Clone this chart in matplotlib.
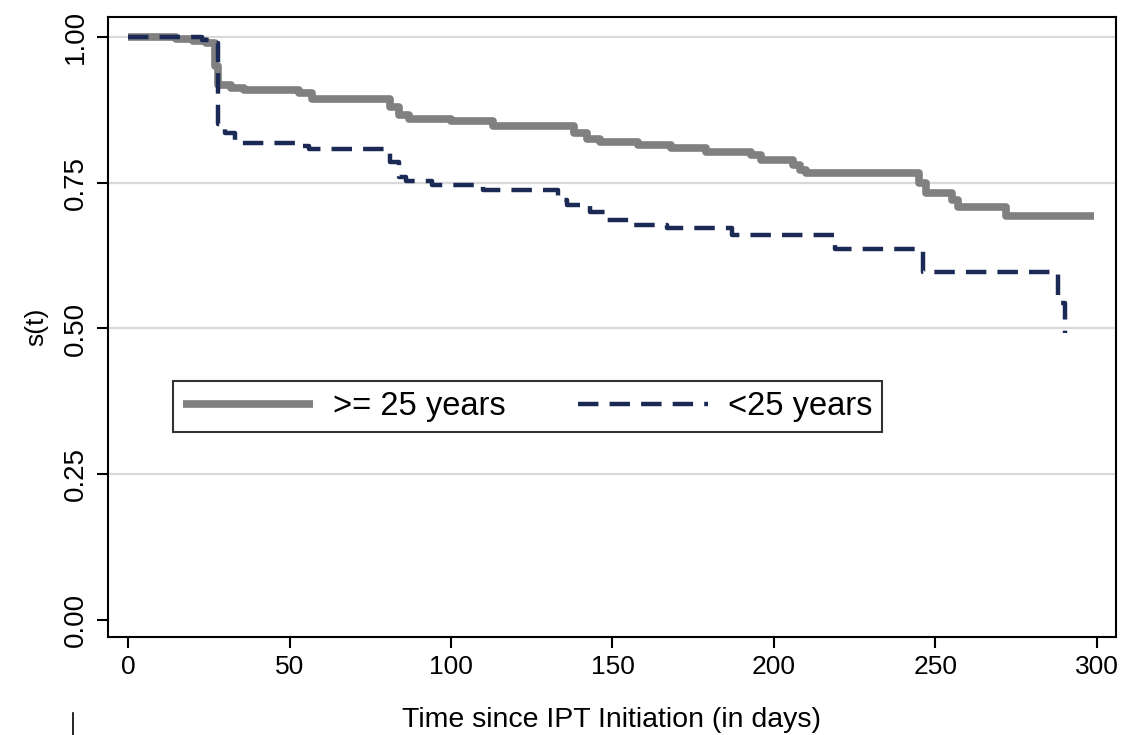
import matplotlib
matplotlib.use("Agg")
import matplotlib.pyplot as plt
from matplotlib.lines import Line2D

# ---- data ----
t_old = [0, 15, 20, 24, 27, 28, 32, 36, 53, 57, 81, 84, 87, 100, 113, 138, 142, 146,
         158, 168, 179, 193, 196, 206, 208, 210, 245, 247, 255, 257, 272, 299]
s_old = [1.0, 0.997, 0.993, 0.99, 0.95, 0.918, 0.912, 0.908, 0.903, 0.893, 0.88, 0.866,
         0.859, 0.855, 0.847, 0.835, 0.825, 0.82, 0.815, 0.81, 0.803, 0.797, 0.789, 0.78,
         0.772, 0.767, 0.75, 0.732, 0.72, 0.708, 0.693, 0.693]

t_young = [0, 23, 27, 28, 30, 33, 53, 56, 81, 84, 86, 94, 110, 133, 136, 143, 148, 155,
           167, 187, 219, 246, 288, 290]
s_young = [1.0, 0.995, 0.99, 0.85, 0.835, 0.818, 0.812, 0.808, 0.785, 0.76, 0.752, 0.746,
           0.738, 0.72, 0.712, 0.70, 0.686, 0.678, 0.672, 0.66, 0.636, 0.597, 0.544, 0.492]

labels = [">= 25 years", "<25 years"]
xticks = [0, 50, 100, 150, 200, 250, 300]
yticks = [0.00, 0.25, 0.50, 0.75, 1.00]
ytick_labels = ["0.00", "0.25", "0.50", "0.75", "1.00"]
xlabel = "Time since IPT Initiation (in days)"
ylabel = "s(t)"

plt.rcParams['font.family'] = ['Liberation Sans', 'DejaVu Sans']

fig = plt.figure(figsize=(11.37, 7.35), dpi=100)
ax = fig.add_axes([0.095, 0.1333, 0.8865, 0.8436])

for yv in yticks[1:]:
    ax.axhline(yv, color='#d9d9d9', lw=1.6, zorder=0)

ax.plot(t_old, s_old, drawstyle='steps-post', color='#808080', lw=5.5,
        solid_capstyle='butt', label=labels[0], zorder=2)
ax.plot(t_young, s_young, drawstyle='steps-post', color='#1b2a55', lw=3.2,
        dashes=(4.6, 2.5), label=labels[1], zorder=3)

ax.set_xlim(-6.2, 305.9)
ax.set_ylim(-0.029, 1.034)
ax.set_xticks(xticks)
ax.set_xticklabels([str(v) for v in xticks], fontsize=19)
ax.set_yticks(yticks)
ax.set_yticklabels(ytick_labels, fontsize=20, rotation=90, va='center')
ax.tick_params(axis='both', direction='out', length=8, width=1.5, color='black')
ax.tick_params(axis='x', pad=5)
ax.tick_params(axis='y', pad=6)
for sp in ax.spines.values():
    sp.set_linewidth(1.5)
    sp.set_color('black')

ax.set_xlabel(xlabel, fontsize=20.5, labelpad=20)
ax.set_ylabel(ylabel, fontsize=19, labelpad=10)

leg = ax.legend(loc='center', bbox_to_anchor=(0.0645, 0.3226, 0.7035, 0.0984),
                mode='expand', ncol=2, fontsize=23.5, frameon=True, fancybox=False,
                handlelength=4.0, handletextpad=0.6, columnspacing=1.8,
                borderpad=0.3, borderaxespad=0)
leg.get_frame().set_edgecolor('black')
leg.get_frame().set_linewidth(1.5)

# cropped artifact at the bottom-left edge
fig.add_artist(Line2D([0.064, 0.064], [0.0, 0.03], color='black', lw=1.2,
                      transform=fig.transFigure))

fig.savefig("out.png", dpi=100)
